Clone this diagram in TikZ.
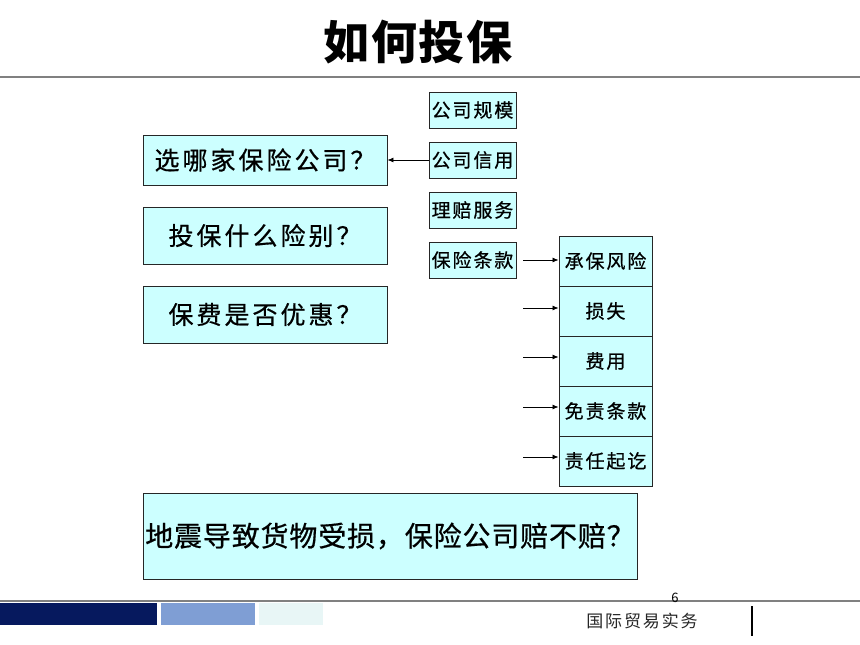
\documentclass[tikz,border=0pt]{standalone}
\usepackage{fontspec}
\setmainfont{Noto Sans CJK SC}
\newfontfamily\boxfont[FakeBold=0.6]{Noto Sans CJK SC}
\usetikzlibrary{arrows.meta}
\definecolor{boxfill}{HTML}{CCFFFF}
\definecolor{navy}{HTML}{06195E}
\definecolor{midblue}{HTML}{7F9ED4}
\definecolor{paleblue}{HTML}{E8F6F6}
\definecolor{rulegray}{HTML}{808080}
\tikzset{
  qbox/.style={draw=black!85, line width=0.9pt, fill=boxfill, minimum width=244pt, minimum height=50pt, inner sep=0pt, font=\boxfont\fontsize{25}{27}\selectfont\addfontfeatures{LetterSpace=12}},
  sbox/.style={draw=black!85, line width=0.9pt, fill=boxfill, minimum width=87pt, minimum height=36pt, inner sep=0pt, font=\boxfont\fontsize{19}{21}\selectfont\addfontfeatures{LetterSpace=10}},
  stbox/.style={draw=black!85, line width=0.9pt, fill=boxfill, minimum width=93pt, minimum height=50pt, inner sep=0pt, font=\boxfont\fontsize{19}{21}\selectfont\addfontfeatures{LetterSpace=10}},
  arr/.style={-{Latex[length=6pt,width=5pt]}, line width=0.8pt},
}
\begin{document}
\begin{tikzpicture}[x=1pt,y=-1pt]
\useasboundingbox (0,0) rectangle (860,645);
% title
\node[font=\fontsize{46}{50}\selectfont\bfseries\addfontfeatures{LetterSpace=3}] (title) at (418,42) {如何投保};
\draw[rulegray, line width=2pt] (0,77) -- (860,77);
% left boxes
\node[qbox] (q1) at (265,160) {选哪家保险公司？};
\node[qbox, minimum height=57pt] (q2) at (265,235.5) {投保什么险别？};
\node[qbox, minimum height=57pt] (q3) at (265,314.5) {保费是否优惠？};
% right small boxes
\node[sbox] (s1) at (472.5,110) {公司规模};
\node[sbox] (s2) at (472.5,160) {公司信用};
\node[sbox] (s3) at (472.5,210) {理赔服务};
\node[sbox] (s4) at (472.5,260) {保险条款};
% stack
\node[stbox] (t1) at (605.5,261) {承保风险};
\node[stbox] (t2) at (605.5,311) {损失};
\node[stbox] (t3) at (605.5,361) {费用};
\node[stbox] (t4) at (605.5,411) {免责条款};
\node[stbox] (t5) at (605.5,461) {责任起讫};
% arrows
\draw[arr] (s2.west) -- (q1.east);
\coordinate (a1) at (523,260);
\draw[arr] (a1) -- (t1.west |- a1);
\coordinate (a2) at (523,308);
\coordinate (a3) at (523,357);
\coordinate (a4) at (523,407);
\coordinate (a5) at (523,457);
\draw[arr] (a2) -- (t2.west |- a2);
\draw[arr] (a3) -- (t3.west |- a3);
\draw[arr] (a4) -- (t4.west |- a4);
\draw[arr] (a5) -- (t5.west |- a5);
% big box
\node[qbox, minimum width=494pt, minimum height=86pt, font=\boxfont\fontsize{28}{30}\selectfont\addfontfeatures{LetterSpace=3}] (big) at (390,536) {地震导致货物受损，保险公司赔不赔？};
% footer
\draw[rulegray, line width=2pt] (0,601) -- (860,601);
\fill[navy] (0,603) rectangle (157,625);
\fill[midblue] (161,603) rectangle (255,625);
\fill[paleblue] (259,603) rectangle (323,625);
\node[font=\fontsize{13}{14}\selectfont] (pg) at (675,598) {6};
\node[font=\fontsize{17}{19}\selectfont\addfontfeatures{LetterSpace=11}, text=black!85] (course) at (642,621) {国际贸易实务};
\draw[black, line width=1.2pt] (752,606) -- (752,636);
\end{tikzpicture}
\end{document}
